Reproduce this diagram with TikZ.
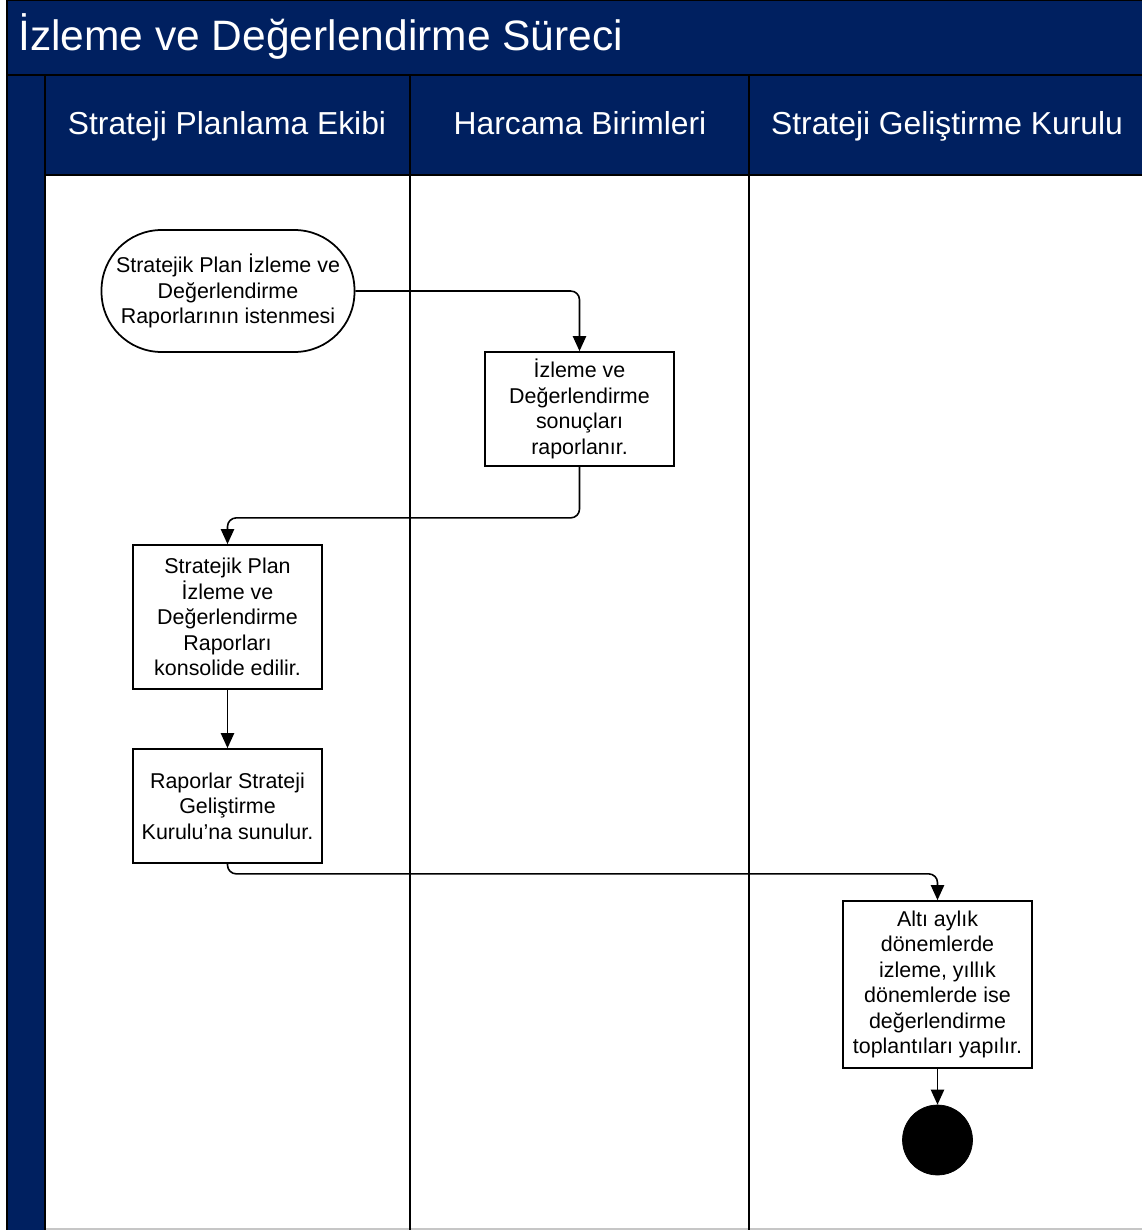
\documentclass[tikz,border=0pt]{standalone}
\usepackage{fontspec}
\setmainfont{Liberation Sans}
\usetikzlibrary{arrows.meta}
\definecolor{lanenavy}{RGB}{0,32,96}

\begin{document}
\begin{tikzpicture}[x=0.02cm,y=-0.02cm,
  lanehead/.style={text=white,anchor=base,font=\fontsize{18.1}{22}\selectfont},
  act/.style={draw,line width=1pt,fill=white,align=center,inner sep=0pt,
    minimum width=3.78cm,font=\fontsize{12.2}{14.5}\selectfont},
  flow/.style={-{Triangle[width=7.5pt,length=8.5pt]},line width=0.9pt,rounded corners=5pt}]
\useasboundingbox (0,0) rectangle (1142,1230);
% swimlane frame
\fill[lanenavy] (7,0) rectangle (1142,175);
\fill[lanenavy] (7,175) rectangle (45,1230);
\draw[gray!45,line width=0.8pt] (45,1229) -- (1142,1229);
\draw[line width=1.2pt] (7,1230) -- (7,0) -- (1142,0);
\draw[line width=1.2pt] (7,75) -- (1142,75);
\draw[line width=1pt] (45,175) -- (1142,175);
\foreach \xl in {45,410,749}
  \draw[line width=1.2pt] (\xl,75) -- (\xl,1230);
\node[anchor=west,text=white,font=\fontsize{24.2}{29}\selectfont] (title) at (12,36) {İzleme ve Değerlendirme Süreci};
\node[lanehead] (h1) at (227,134) {Strateji Planlama Ekibi};
\node[lanehead] (h2) at (580,134) {Harcama Birimleri};
\node[lanehead] (h3) at (947,134) {Strateji Geliştirme Kurulu};
% activities
\node[draw,line width=1pt,rounded corners=1.2cm,align=center,inner sep=0pt,
  minimum width=5.06cm,minimum height=2.44cm,font=\fontsize{12.2}{14.5}\selectfont]
  (s0) at (228,291) {Stratejik Plan İzleme ve\\Değerlendirme\\Raporlarının istenmesi};
\node[act,minimum height=2.28cm] (a1) at (579.5,409) {İzleme ve\\Değerlendirme\\sonuçları\\raporlanır.};
\node[act,minimum height=2.88cm] (a2) at (227.5,617) {Stratejik Plan\\İzleme ve\\Değerlendirme\\Raporları\\konsolide edilir.};
\node[act,minimum height=2.28cm] (a3) at (227.5,806) {Raporlar Strateji\\Geliştirme\\Kurulu’na sunulur.};
\node[act,minimum height=3.34cm] (a4) at (937.5,984.5) {Altı aylık\\dönemlerde\\izleme, yıllık\\dönemlerde ise\\değerlendirme\\toplantıları yapılır.};
\node[draw,circle,fill=black,minimum size=1.4cm] (e0) at (937.5,1140) {};
% flows
\draw[flow] (s0.east) -| (a1.north);
\draw[flow] (a1.south) -- ++(0,51) -| (a2.north);
\draw[flow] (a2.south) -- (a3.north);
\draw[flow] (a3.south) -- ++(0,10) -| (a4.north);
\draw[flow] (a4.south) -- (e0.north);
\end{tikzpicture}
\end{document}
